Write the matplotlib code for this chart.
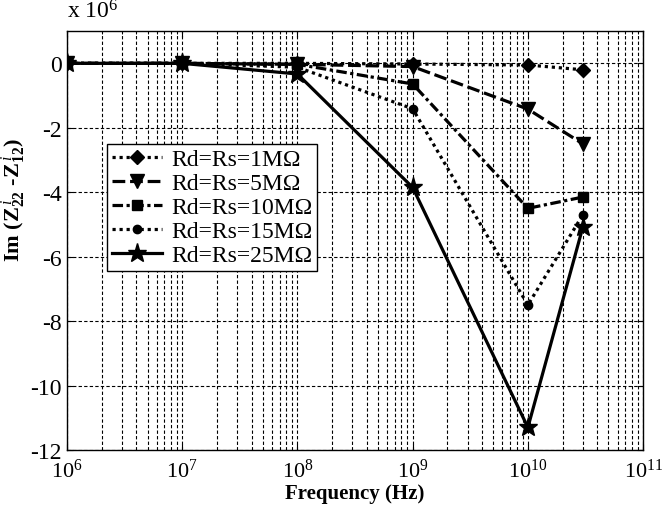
import matplotlib
matplotlib.use("Agg")
import matplotlib.pyplot as plt
from matplotlib.ticker import LogLocator

freq = [1e6, 1e7, 1e8, 1e9, 1e10, 3e10]
labels = ["Rd=Rs=1M\u03a9", "Rd=Rs=5M\u03a9", "Rd=Rs=10M\u03a9", "Rd=Rs=15M\u03a9", "Rd=Rs=25M\u03a9"]
r1 = [0.0, 0.0, 0.0, -0.02, -0.05, -0.2]
r5 = [0.0, 0.0, -0.03, -0.1, -1.42, -2.5]
r10 = [0.0, 0.0, -0.03, -0.64, -4.5, -4.15]
r15 = [0.0, 0.0, -0.12, -1.41, -7.5, -4.7]
r25 = [0.0, 0.0, -0.33, -3.85, -11.3, -5.08]
yticks = [0, -2, -4, -6, -8, -10, -12]

plt.rcParams['font.family'] = ['Liberation Serif', 'DejaVu Serif']
plt.rcParams['mathtext.fontset'] = 'custom'
plt.rcParams['mathtext.rm'] = 'Liberation Serif'
plt.rcParams['mathtext.it'] = 'Liberation Serif:italic'
plt.rcParams['mathtext.bf'] = 'Liberation Serif:bold'
plt.rcParams['mathtext.bfit'] = 'Liberation Serif:bold:italic'

fig = plt.figure(figsize=(6.63, 5.10), dpi=100)
ax = fig.add_axes([0.101, 0.1157, 0.869, 0.8213])

series = [
    (r1, (0, (1, 1.2)), 'D', 7),
    (r5, (0, (4, 1.5)), 'v', 10),
    (r10, (0, (3.3, 1.1, 1, 1.1)), 's', 7),
    (r15, (0, (1, 1.2)), 'o', 6),
    (r25, '-', '*', 14),
]
for (vals, ls, mk, ms), lab in zip(series, labels):
    ax.plot(freq, vals, color='black', linestyle=ls, linewidth=2.3,
            marker=mk, markersize=ms, markerfacecolor='black',
            markeredgecolor='black', label=lab)

ax.set_xscale('log')
ax.set_xlim(1e6, 1e11)
ax.set_ylim(-12, 1)
ax.set_yticks(yticks)
ax.set_yticklabels([str(v) for v in yticks])
ax.xaxis.set_major_locator(LogLocator(base=10, numticks=10))
ax.xaxis.set_minor_locator(LogLocator(base=10, subs=range(2, 10), numticks=50))

ax.grid(True, which='major', linestyle=(0, (3, 2)), color='black', linewidth=0.8)
ax.grid(True, which='minor', axis='x', linestyle=(0, (3, 2)), color='black', linewidth=0.8)
ax.tick_params(which='both', direction='in', top=True, right=True, length=4)
ax.tick_params(which='minor', length=2)
ax.tick_params(axis='y', labelsize=17, pad=4)
ax.tick_params(axis='x', labelsize=16, pad=6)
for s in ax.spines.values():
    s.set_linewidth(1.0)

ax.set_xlabel('Frequency (Hz)', fontsize=15, fontweight='bold', labelpad=1)
ax.set_ylabel(r'Im ($\mathbf{Z}^{\,\mathit{i}}_{\mathbf{22}}$ -$\mathbf{Z}^{\,\mathit{i}}_{\mathbf{12}}$)',
              fontsize=16, fontweight='bold')
ax.yaxis.set_label_coords(-0.068, 0.6)
fig.text(0.101, 0.953, r'x 10$^6$', fontsize=17, ha='left', va='bottom')

leg = ax.legend(loc='upper left', bbox_to_anchor=(0.07, 0.73), fontsize=17,
                frameon=True, fancybox=False, edgecolor='black', framealpha=1,
                handlelength=2.1, borderpad=0.2, labelspacing=0.1, handletextpad=0.4,
                borderaxespad=0)
leg.get_frame().set_linewidth(1.0)

fig.savefig('out.png', dpi=100)
